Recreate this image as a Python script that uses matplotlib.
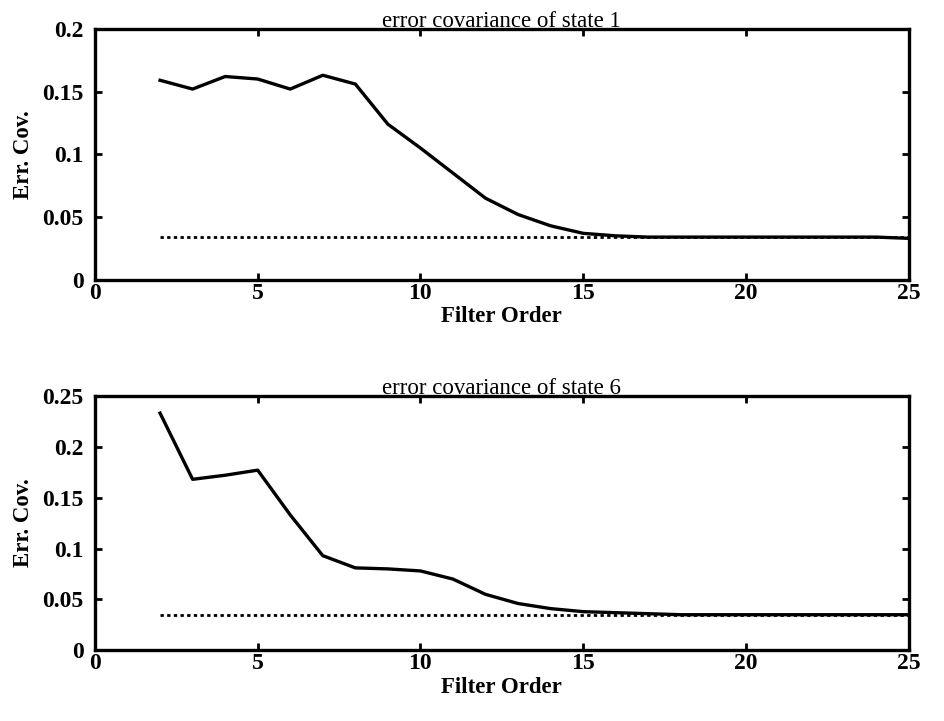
import numpy as np
import matplotlib.pyplot as plt

plt.rcParams['font.family'] = ['Liberation Serif', 'DejaVu Serif']

order = list(range(2, 26))

cov_state1 = [0.159, 0.152, 0.162, 0.160, 0.152, 0.163, 0.156, 0.124, 0.105,
              0.085, 0.065, 0.052, 0.043, 0.037, 0.035, 0.034, 0.034, 0.034,
              0.034, 0.034, 0.034, 0.034, 0.034, 0.033]
ref_state1 = 0.034

cov_state6 = [0.233, 0.168, 0.172, 0.177, 0.133, 0.093, 0.081, 0.080, 0.078,
              0.070, 0.055, 0.046, 0.041, 0.038, 0.037, 0.036, 0.035, 0.035,
              0.035, 0.035, 0.035, 0.035, 0.035, 0.035]
ref_state6 = 0.035

panels = [
    ("error covariance of state 1", cov_state1, ref_state1,
     [0, 0.05, 0.1, 0.15, 0.2], ["0", "0.05", "0.1", "0.15", "0.2"]),
    ("error covariance of state 6", cov_state6, ref_state6,
     [0, 0.05, 0.1, 0.15, 0.2, 0.25], ["0", "0.05", "0.1", "0.15", "0.2", "0.25"]),
]

fig = plt.figure(figsize=(9.45, 7.21), dpi=100)
boxes = [[0.1005, 0.612, 0.861, 0.348], [0.1005, 0.098, 0.861, 0.353]]

for box, (title, vals, ref, yt, ytl) in zip(boxes, panels):
    ax = fig.add_axes(box)
    ax.plot(order, vals, color='black', lw=2.4)
    ax.plot([order[0], order[-1]], [ref, ref], color='black', lw=2.0,
            linestyle=(0, (1.2, 1.2)))
    ax.set_xlim(0, 25)
    ax.set_ylim(yt[0], yt[-1])
    ax.set_xticks([0, 5, 10, 15, 20, 25])
    ax.set_xticklabels(["0", "5", "10", "15", "20", "25"], fontsize=17, fontweight='bold')
    ax.set_yticks(yt)
    ax.set_yticklabels(ytl, fontsize=17, fontweight='bold')
    ax.tick_params(direction='in', length=5, width=2, top=True, right=True)
    ax.tick_params(axis='y', pad=8)
    ax.tick_params(axis='x', pad=2)
    for s in ax.spines.values():
        s.set_linewidth(2.4)
    ax.set_title(title, fontsize=16.5, pad=1)
    ax.set_xlabel("Filter Order", fontsize=16.5, fontweight='bold', labelpad=2)
    ax.set_ylabel("Err. Cov.", fontsize=16.5, fontweight='bold', labelpad=6)

fig.savefig("out.png", dpi=100)
